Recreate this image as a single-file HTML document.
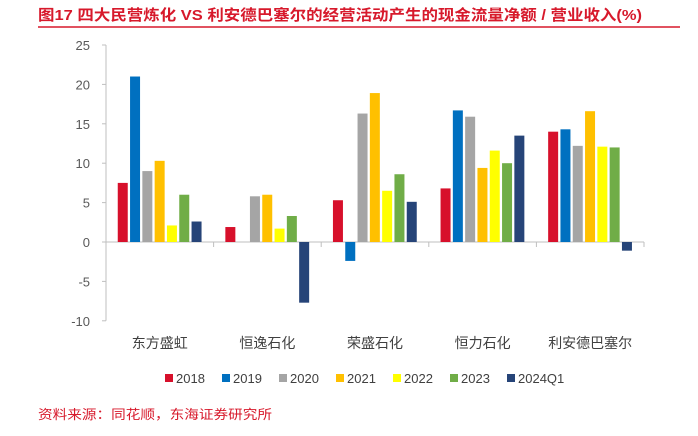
<!DOCTYPE html>
<html><head><meta charset="utf-8"><style>
body{margin:0;background:#fff;width:698px;height:431px;overflow:hidden;font-family:"Liberation Sans","Noto Sans CJK SC",sans-serif}
</style></head><body>
<svg width="698" height="431" xmlns="http://www.w3.org/2000/svg" font-family="Liberation Sans, Noto Sans CJK SC, sans-serif">
<text x="38" y="20" font-size="15" font-weight="bold" fill="#d7192b" textLength="604" lengthAdjust="spacingAndGlyphs">图17  四大民营炼化 VS 利安德巴塞尔的经营活动产生的现金流量净额 / 营业收入(%)</text>
<line x1="38" y1="27" x2="680" y2="27" stroke="#d7192b" stroke-width="1.5"/>
<g id="axes"></g>
<g id="bars"></g>
<g id="legend"></g>
<text x="38" y="419" font-size="13" fill="#d7192b" textLength="234" lengthAdjust="spacingAndGlyphs">资料来源：同花顺，东海证券研究所</text>
</svg>
<script>
const categories=["东方盛虹","恒逸石化","荣盛石化","恒力石化","利安德巴塞尔"];
const seriesNames=["2018","2019","2020","2021","2022","2023","2024Q1"];
const colors=["#d7102b","#0070c0","#a5a5a5","#ffc000","#ffff00","#70ad47","#264478"];
const s2018=[7.5,1.9,5.3,6.8,14.0];
const s2019=[21.0,0,-2.4,16.7,14.3];
const s2020=[9.0,5.8,16.3,15.9,12.2];
const s2021=[10.3,6.0,18.9,9.4,16.6];
const s2022=[2.1,1.7,6.5,11.6,12.1];
const s2023=[6.0,3.3,8.6,10.0,12.0];
const s2024=[2.6,-7.7,5.1,13.5,-1.1];
const yTicks=[25,20,15,10,5,0,-5,-10];
const series=[s2018,s2019,s2020,s2021,s2022,s2023,s2024];
const NS="http://www.w3.org/2000/svg";
const x0=106,gw=107.6,y0=242,ppu=7.88;
const Y=v=>y0-v*ppu;
function mk(t,a,p){const e=document.createElementNS(NS,t);for(const k in a)e.setAttribute(k,a[k]);p.appendChild(e);return e;}
const ax=document.getElementById('axes');
const yl=mk('line',{x1:x0,y1:Y(25),x2:x0,y2:Y(-10),stroke:'#bfbfbf'},ax);


yTicks.forEach(v=>{
 const t=mk('line',{x1:x0-4,y1:Y(v),x2:x0,y2:Y(v),stroke:'#bfbfbf'},ax);
 
 
 const l=mk('text',{x:x0-16,y:Y(v)+5,'text-anchor':'end','font-size':13,fill:'#595959'},ax);
 l.textContent=v;
 
 
});
const xl=mk('line',{x1:x0,y1:y0,x2:x0+gw*5,y2:y0,stroke:'#bfbfbf'},ax);


categories.forEach((c,i)=>{
 const tk=mk('line',{x1:x0+gw*(i+1),y1:y0,x2:x0+gw*(i+1),y2:y0+5,stroke:'#bfbfbf'},ax);
 
 
 const l=mk('text',{x:x0+gw*(i+0.5),y:348,'text-anchor':'middle','font-size':14,fill:'#404040'},ax);
 l.textContent=c;
 
 
});
const bg=document.getElementById('bars');
const step=12.3,bw=10,off=(gw-step*7)/2+1;
series.forEach((s,j)=>s.forEach((v,i)=>{
 if(v===0)return;
 const x=x0+gw*i+off+j*step;
 const r=mk('rect',{x:x,y:Math.min(Y(v),y0),width:bw,height:Math.abs(v*ppu),fill:colors[j]},bg);
 
 
}));
const lg=document.getElementById('legend');
const lx=[165,222,279,336,393,450,507];
seriesNames.forEach((n,j)=>{
 const g=mk('g',{},lg);
 
 
 mk('rect',{x:lx[j],y:374,width:8,height:8,fill:colors[j]},g);
 const t=mk('text',{x:lx[j]+11,y:383,'font-size':13,fill:'#404040'},g);
 t.textContent=n;
});
</script>
</body></html>
